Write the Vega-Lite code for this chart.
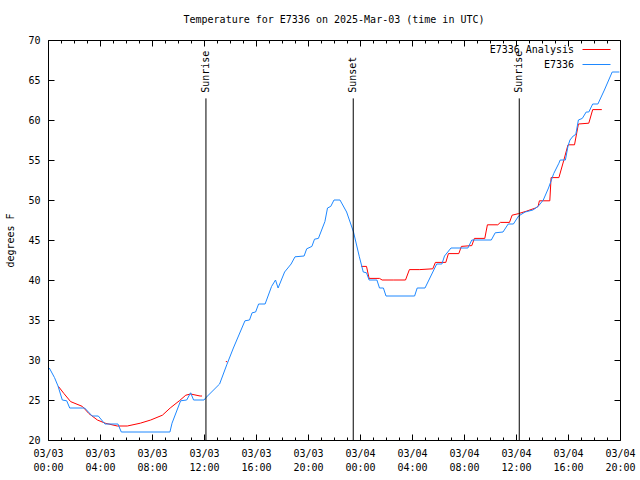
{
  "$schema": "https://vega.github.io/schema/vega-lite/v6.json",
  "width": 572,
  "height": 400,
  "autosize": {"type": "none"},
  "padding": {"left": 48, "top": 40, "right": 20, "bottom": 40},
  "background": "white",
  "title": {"text": "Temperature for E7336 on 2025-Mar-03 (time in UTC)", "font": "DejaVu Sans Mono", "fontSize": 10, "fontWeight": "normal", "anchor": "middle", "offset": 10, "color": "black"},
  "config": {"view": {"stroke": "black", "strokeWidth": 1}, "font": "DejaVu Sans Mono"},
  "datasets": {
    "temps": [
      {"hour": 0.8, "temp": 26.7, "series": "E7336 Analysis", "seg": "a1"},
      {"hour": 1.23, "temp": 25.8, "series": "E7336 Analysis", "seg": "a1"},
      {"hour": 1.74, "temp": 24.8, "series": "E7336 Analysis", "seg": "a1"},
      {"hour": 2.64, "temp": 24.2, "series": "E7336 Analysis", "seg": "a1"},
      {"hour": 3.15, "temp": 23.3, "series": "E7336 Analysis", "seg": "a1"},
      {"hour": 3.8, "temp": 22.5, "series": "E7336 Analysis", "seg": "a1"},
      {"hour": 4.4, "temp": 22.1, "series": "E7336 Analysis", "seg": "a1"},
      {"hour": 5.33, "temp": 21.75, "series": "E7336 Analysis", "seg": "a1"},
      {"hour": 6.1, "temp": 21.75, "series": "E7336 Analysis", "seg": "a1"},
      {"hour": 7.1, "temp": 22.1, "series": "E7336 Analysis", "seg": "a1"},
      {"hour": 7.9, "temp": 22.5, "series": "E7336 Analysis", "seg": "a1"},
      {"hour": 8.8, "temp": 23.1, "series": "E7336 Analysis", "seg": "a1"},
      {"hour": 9.4, "temp": 24.0, "series": "E7336 Analysis", "seg": "a1"},
      {"hour": 10.1, "temp": 24.9, "series": "E7336 Analysis", "seg": "a1"},
      {"hour": 10.6, "temp": 25.6, "series": "E7336 Analysis", "seg": "a1"},
      {"hour": 10.97, "temp": 25.75, "series": "E7336 Analysis", "seg": "a1"},
      {"hour": 11.7, "temp": 25.5, "series": "E7336 Analysis", "seg": "a1"},
      {"hour": 11.85, "temp": 25.5, "series": "E7336 Analysis", "seg": "a1"},
      {"hour": 13.68, "temp": 29.8, "series": "E7336 Analysis", "seg": "a2"},
      {"hour": 13.78, "temp": 29.8, "series": "E7336 Analysis", "seg": "a2"},
      {"hour": 24.1, "temp": 41.7, "series": "E7336 Analysis", "seg": "a3"},
      {"hour": 24.5, "temp": 41.7, "series": "E7336 Analysis", "seg": "a3"},
      {"hour": 24.7, "temp": 40.2, "series": "E7336 Analysis", "seg": "a3"},
      {"hour": 25.5, "temp": 40.2, "series": "E7336 Analysis", "seg": "a3"},
      {"hour": 25.7, "temp": 40.0, "series": "E7336 Analysis", "seg": "a3"},
      {"hour": 26.6, "temp": 40.0, "series": "E7336 Analysis", "seg": "a3"},
      {"hour": 27.5, "temp": 40.0, "series": "E7336 Analysis", "seg": "a3"},
      {"hour": 27.8, "temp": 41.3, "series": "E7336 Analysis", "seg": "a3"},
      {"hour": 28.6, "temp": 41.3, "series": "E7336 Analysis", "seg": "a3"},
      {"hour": 29.6, "temp": 41.4, "series": "E7336 Analysis", "seg": "a3"},
      {"hour": 29.8, "temp": 42.2, "series": "E7336 Analysis", "seg": "a3"},
      {"hour": 30.6, "temp": 42.2, "series": "E7336 Analysis", "seg": "a3"},
      {"hour": 30.8, "temp": 43.3, "series": "E7336 Analysis", "seg": "a3"},
      {"hour": 31.6, "temp": 43.3, "series": "E7336 Analysis", "seg": "a3"},
      {"hour": 31.8, "temp": 44.2, "series": "E7336 Analysis", "seg": "a3"},
      {"hour": 32.6, "temp": 44.3, "series": "E7336 Analysis", "seg": "a3"},
      {"hour": 32.8, "temp": 45.2, "series": "E7336 Analysis", "seg": "a3"},
      {"hour": 33.6, "temp": 45.2, "series": "E7336 Analysis", "seg": "a3"},
      {"hour": 33.8, "temp": 46.9, "series": "E7336 Analysis", "seg": "a3"},
      {"hour": 34.6, "temp": 46.9, "series": "E7336 Analysis", "seg": "a3"},
      {"hour": 34.8, "temp": 47.2, "series": "E7336 Analysis", "seg": "a3"},
      {"hour": 35.5, "temp": 47.2, "series": "E7336 Analysis", "seg": "a3"},
      {"hour": 35.7, "temp": 48.1, "series": "E7336 Analysis", "seg": "a3"},
      {"hour": 36.2, "temp": 48.3, "series": "E7336 Analysis", "seg": "a3"},
      {"hour": 36.8, "temp": 48.6, "series": "E7336 Analysis", "seg": "a3"},
      {"hour": 37.5, "temp": 49.0, "series": "E7336 Analysis", "seg": "a3"},
      {"hour": 37.7, "temp": 49.2, "series": "E7336 Analysis", "seg": "a3"},
      {"hour": 37.8, "temp": 49.9, "series": "E7336 Analysis", "seg": "a3"},
      {"hour": 38.6, "temp": 49.9, "series": "E7336 Analysis", "seg": "a3"},
      {"hour": 38.7, "temp": 52.8, "series": "E7336 Analysis", "seg": "a3"},
      {"hour": 39.3, "temp": 52.8, "series": "E7336 Analysis", "seg": "a3"},
      {"hour": 39.7, "temp": 55.1, "series": "E7336 Analysis", "seg": "a3"},
      {"hour": 40.0, "temp": 56.9, "series": "E7336 Analysis", "seg": "a3"},
      {"hour": 40.5, "temp": 56.9, "series": "E7336 Analysis", "seg": "a3"},
      {"hour": 40.8, "temp": 59.5, "series": "E7336 Analysis", "seg": "a3"},
      {"hour": 41.6, "temp": 59.6, "series": "E7336 Analysis", "seg": "a3"},
      {"hour": 41.9, "temp": 61.3, "series": "E7336 Analysis", "seg": "a3"},
      {"hour": 42.6, "temp": 61.3, "series": "E7336 Analysis", "seg": "a3"},
      {"hour": 0.1, "temp": 29.0, "series": "E7336", "seg": "b"},
      {"hour": 0.5, "temp": 27.8, "series": "E7336", "seg": "b"},
      {"hour": 0.77, "temp": 26.75, "series": "E7336", "seg": "b"},
      {"hour": 1.1, "temp": 25.0, "series": "E7336", "seg": "b"},
      {"hour": 1.44, "temp": 24.9, "series": "E7336", "seg": "b"},
      {"hour": 1.67, "temp": 24.0, "series": "E7336", "seg": "b"},
      {"hour": 2.82, "temp": 24.0, "series": "E7336", "seg": "b"},
      {"hour": 3.4, "temp": 23.0, "series": "E7336", "seg": "b"},
      {"hour": 3.87, "temp": 23.0, "series": "E7336", "seg": "b"},
      {"hour": 4.38, "temp": 22.0, "series": "E7336", "seg": "b"},
      {"hour": 5.38, "temp": 22.0, "series": "E7336", "seg": "b"},
      {"hour": 5.64, "temp": 21.0, "series": "E7336", "seg": "b"},
      {"hour": 9.38, "temp": 21.0, "series": "E7336", "seg": "b"},
      {"hour": 9.54, "temp": 22.1, "series": "E7336", "seg": "b"},
      {"hour": 10.2, "temp": 24.9, "series": "E7336", "seg": "b"},
      {"hour": 10.67, "temp": 25.0, "series": "E7336", "seg": "b"},
      {"hour": 10.97, "temp": 25.9, "series": "E7336", "seg": "b"},
      {"hour": 11.2, "temp": 25.0, "series": "E7336", "seg": "b"},
      {"hour": 12.0, "temp": 25.0, "series": "E7336", "seg": "b"},
      {"hour": 12.15, "temp": 25.3, "series": "E7336", "seg": "b"},
      {"hour": 13.2, "temp": 27.0, "series": "E7336", "seg": "b"},
      {"hour": 13.75, "temp": 29.4, "series": "E7336", "seg": "b"},
      {"hour": 14.26, "temp": 31.5, "series": "E7336", "seg": "b"},
      {"hour": 15.15, "temp": 34.9, "series": "E7336", "seg": "b"},
      {"hour": 15.5, "temp": 35.0, "series": "E7336", "seg": "b"},
      {"hour": 15.7, "temp": 35.9, "series": "E7336", "seg": "b"},
      {"hour": 15.97, "temp": 36.0, "series": "E7336", "seg": "b"},
      {"hour": 16.2, "temp": 37.0, "series": "E7336", "seg": "b"},
      {"hour": 16.7, "temp": 37.0, "series": "E7336", "seg": "b"},
      {"hour": 17.2, "temp": 39.2, "series": "E7336", "seg": "b"},
      {"hour": 17.5, "temp": 40.0, "series": "E7336", "seg": "b"},
      {"hour": 17.7, "temp": 39.0, "series": "E7336", "seg": "b"},
      {"hour": 18.2, "temp": 41.0, "series": "E7336", "seg": "b"},
      {"hour": 18.7, "temp": 42.0, "series": "E7336", "seg": "b"},
      {"hour": 19.0, "temp": 42.9, "series": "E7336", "seg": "b"},
      {"hour": 19.7, "temp": 43.0, "series": "E7336", "seg": "b"},
      {"hour": 19.9, "temp": 43.9, "series": "E7336", "seg": "b"},
      {"hour": 20.3, "temp": 44.2, "series": "E7336", "seg": "b"},
      {"hour": 20.5, "temp": 45.1, "series": "E7336", "seg": "b"},
      {"hour": 20.8, "temp": 45.2, "series": "E7336", "seg": "b"},
      {"hour": 21.3, "temp": 47.3, "series": "E7336", "seg": "b"},
      {"hour": 21.5, "temp": 49.0, "series": "E7336", "seg": "b"},
      {"hour": 21.75, "temp": 49.2, "series": "E7336", "seg": "b"},
      {"hour": 22.0, "temp": 50.0, "series": "E7336", "seg": "b"},
      {"hour": 22.46, "temp": 50.0, "series": "E7336", "seg": "b"},
      {"hour": 22.97, "temp": 48.5, "series": "E7336", "seg": "b"},
      {"hour": 23.5, "temp": 46.0, "series": "E7336", "seg": "b"},
      {"hour": 23.95, "temp": 42.9, "series": "E7336", "seg": "b"},
      {"hour": 24.25, "temp": 41.0, "series": "E7336", "seg": "b"},
      {"hour": 24.5, "temp": 40.9, "series": "E7336", "seg": "b"},
      {"hour": 24.7, "temp": 40.0, "series": "E7336", "seg": "b"},
      {"hour": 25.3, "temp": 40.0, "series": "E7336", "seg": "b"},
      {"hour": 25.5, "temp": 39.0, "series": "E7336", "seg": "b"},
      {"hour": 25.8, "temp": 39.0, "series": "E7336", "seg": "b"},
      {"hour": 26.0, "temp": 38.0, "series": "E7336", "seg": "b"},
      {"hour": 28.2, "temp": 38.0, "series": "E7336", "seg": "b"},
      {"hour": 28.4, "temp": 39.0, "series": "E7336", "seg": "b"},
      {"hour": 29.0, "temp": 39.0, "series": "E7336", "seg": "b"},
      {"hour": 29.6, "temp": 41.0, "series": "E7336", "seg": "b"},
      {"hour": 29.9, "temp": 42.0, "series": "E7336", "seg": "b"},
      {"hour": 30.3, "temp": 42.0, "series": "E7336", "seg": "b"},
      {"hour": 30.5, "temp": 43.0, "series": "E7336", "seg": "b"},
      {"hour": 31.0, "temp": 44.0, "series": "E7336", "seg": "b"},
      {"hour": 32.3, "temp": 44.0, "series": "E7336", "seg": "b"},
      {"hour": 32.6, "temp": 45.0, "series": "E7336", "seg": "b"},
      {"hour": 34.1, "temp": 45.0, "series": "E7336", "seg": "b"},
      {"hour": 34.4, "temp": 45.9, "series": "E7336", "seg": "b"},
      {"hour": 35.0, "temp": 46.0, "series": "E7336", "seg": "b"},
      {"hour": 35.4, "temp": 47.0, "series": "E7336", "seg": "b"},
      {"hour": 35.8, "temp": 47.0, "series": "E7336", "seg": "b"},
      {"hour": 36.2, "temp": 48.0, "series": "E7336", "seg": "b"},
      {"hour": 36.7, "temp": 48.5, "series": "E7336", "seg": "b"},
      {"hour": 37.3, "temp": 48.75, "series": "E7336", "seg": "b"},
      {"hour": 37.7, "temp": 49.2, "series": "E7336", "seg": "b"},
      {"hour": 38.1, "temp": 50.0, "series": "E7336", "seg": "b"},
      {"hour": 38.5, "temp": 51.5, "series": "E7336", "seg": "b"},
      {"hour": 38.9, "temp": 53.3, "series": "E7336", "seg": "b"},
      {"hour": 39.3, "temp": 54.6, "series": "E7336", "seg": "b"},
      {"hour": 39.4, "temp": 55.0, "series": "E7336", "seg": "b"},
      {"hour": 39.8, "temp": 55.0, "series": "E7336", "seg": "b"},
      {"hour": 40.0, "temp": 56.75, "series": "E7336", "seg": "b"},
      {"hour": 40.15, "temp": 57.5, "series": "E7336", "seg": "b"},
      {"hour": 40.4, "temp": 58.0, "series": "E7336", "seg": "b"},
      {"hour": 40.6, "temp": 58.2, "series": "E7336", "seg": "b"},
      {"hour": 40.8, "temp": 60.0, "series": "E7336", "seg": "b"},
      {"hour": 41.1, "temp": 60.2, "series": "E7336", "seg": "b"},
      {"hour": 41.4, "temp": 61.0, "series": "E7336", "seg": "b"},
      {"hour": 41.6, "temp": 61.0, "series": "E7336", "seg": "b"},
      {"hour": 41.9, "temp": 62.0, "series": "E7336", "seg": "b"},
      {"hour": 42.3, "temp": 62.0, "series": "E7336", "seg": "b"},
      {"hour": 42.8, "temp": 63.75, "series": "E7336", "seg": "b"},
      {"hour": 43.4, "temp": 66.0, "series": "E7336", "seg": "b"},
      {"hour": 43.95, "temp": 66.0, "series": "E7336", "seg": "b"}
    ],
    "events": [
      {"hour": 12.15, "event": "Sunrise"},
      {"hour": 23.48, "event": "Sunset"},
      {"hour": 36.25, "event": "Sunrise"}
    ]
  },
  "layer": [
    {
      "data": {"name": "temps"},
      "mark": {"type": "line", "strokeWidth": 1},
      "encoding": {
        "x": {
          "field": "hour", "type": "quantitative",
          "scale": {"domain": [0, 44], "nice": false, "zero": false},
          "axis": {
            "orient": "bottom", "title": null, "domain": false, "grid": false,
            "values": [0,1,2,3,4,5,6,7,8,9,10,11,12,13,14,15,16,17,18,19,20,21,22,23,24,25,26,27,28,29,30,31,32,33,34,35,36,37,38,39,40,41,42,43,44],
            "tickColor": "black",
            "tickSize": {"condition": {"test": "datum.value % 4 === 0", "value": -6}, "value": -3},
            "labelExpr": "datum.value % 4 === 0 ? [(datum.value < 24 ? '03/03' : '03/04'), (datum.value % 24 < 10 ? '0' : '') + (datum.value % 24) + ':00'] : ''",
            "labelFont": "DejaVu Sans Mono", "labelFontSize": 10, "labelColor": "black",
            "labelPadding": 14, "labelLineHeight": 14, "labelBaseline": "top",
            "labelFlush": false, "labelOverlap": false, "labelBound": false
          }
        },
        "y": {
          "field": "temp", "type": "quantitative",
          "scale": {"domain": [20, 70], "nice": false, "zero": false},
          "axis": {
            "orient": "left", "title": "degrees F", "domain": false, "grid": false,
            "values": [20,25,30,35,40,45,50,55,60,65,70],
            "tickColor": "black", "tickSize": -6,
            "labelFont": "DejaVu Sans Mono", "labelFontSize": 10, "labelColor": "black", "labelPadding": 14,
            "titleFont": "DejaVu Sans Mono", "titleFontSize": 10, "titleFontWeight": "normal", "titleColor": "black", "titlePadding": 12
          }
        },
        "color": {
          "field": "series", "type": "nominal",
          "scale": {"domain": ["E7336 Analysis", "E7336"], "range": ["#ff0000", "#1e88ff"]},
          "legend": {
            "title": null, "orient": "none", "legendX": 543, "legendY": 4,
            "symbolType": "M-2.8,0H2.8", "symbolSize": 100, "symbolStrokeWidth": 1,
            "labelFont": "DejaVu Sans Mono", "labelFontSize": 10, "labelColor": "black",
            "labelAlign": "right", "labelOffset": -28, "rowPadding": 4, "padding": 0
          }
        },
        "detail": {"field": "seg", "type": "nominal"}
      }
    },
    {
      "data": {"name": "events"},
      "mark": {"type": "rule", "color": "black", "strokeWidth": 1},
      "encoding": {
        "x": {
          "field": "hour", "type": "quantitative",
          "scale": {"domain": [0, 44], "nice": false, "zero": false},
          "axis": {
            "orient": "top", "title": null, "domain": false, "grid": false, "labels": false,
            "values": [0,1,2,3,4,5,6,7,8,9,10,11,12,13,14,15,16,17,18,19,20,21,22,23,24,25,26,27,28,29,30,31,32,33,34,35,36,37,38,39,40,41,42,43,44],
            "tickColor": "black",
            "tickSize": {"condition": {"test": "datum.value % 4 === 0", "value": -6}, "value": -3}
          }
        },
        "y": {
          "datum": 62.7, "type": "quantitative",
          "scale": {"domain": [20, 70], "nice": false, "zero": false},
          "axis": {
            "orient": "right", "title": null, "domain": false, "grid": false, "labels": false,
            "values": [20,25,30,35,40,45,50,55,60,65,70],
            "tickColor": "black", "tickSize": -6
          }
        },
        "y2": {"datum": 20}
      }
    },
    {
      "data": {"name": "events"},
      "mark": {"type": "text", "angle": 270, "align": "left", "baseline": "middle", "font": "DejaVu Sans Mono", "fontSize": 10, "color": "black"},
      "encoding": {
        "x": {"field": "hour", "type": "quantitative", "scale": {"domain": [0, 44], "nice": false, "zero": false}, "axis": null},
        "y": {"datum": 63.4, "type": "quantitative", "scale": {"domain": [20, 70], "nice": false, "zero": false}, "axis": null},
        "text": {"field": "event", "type": "nominal"}
      }
    }
  ],
  "resolve": {"axis": {"x": "independent", "y": "independent"}}
}
